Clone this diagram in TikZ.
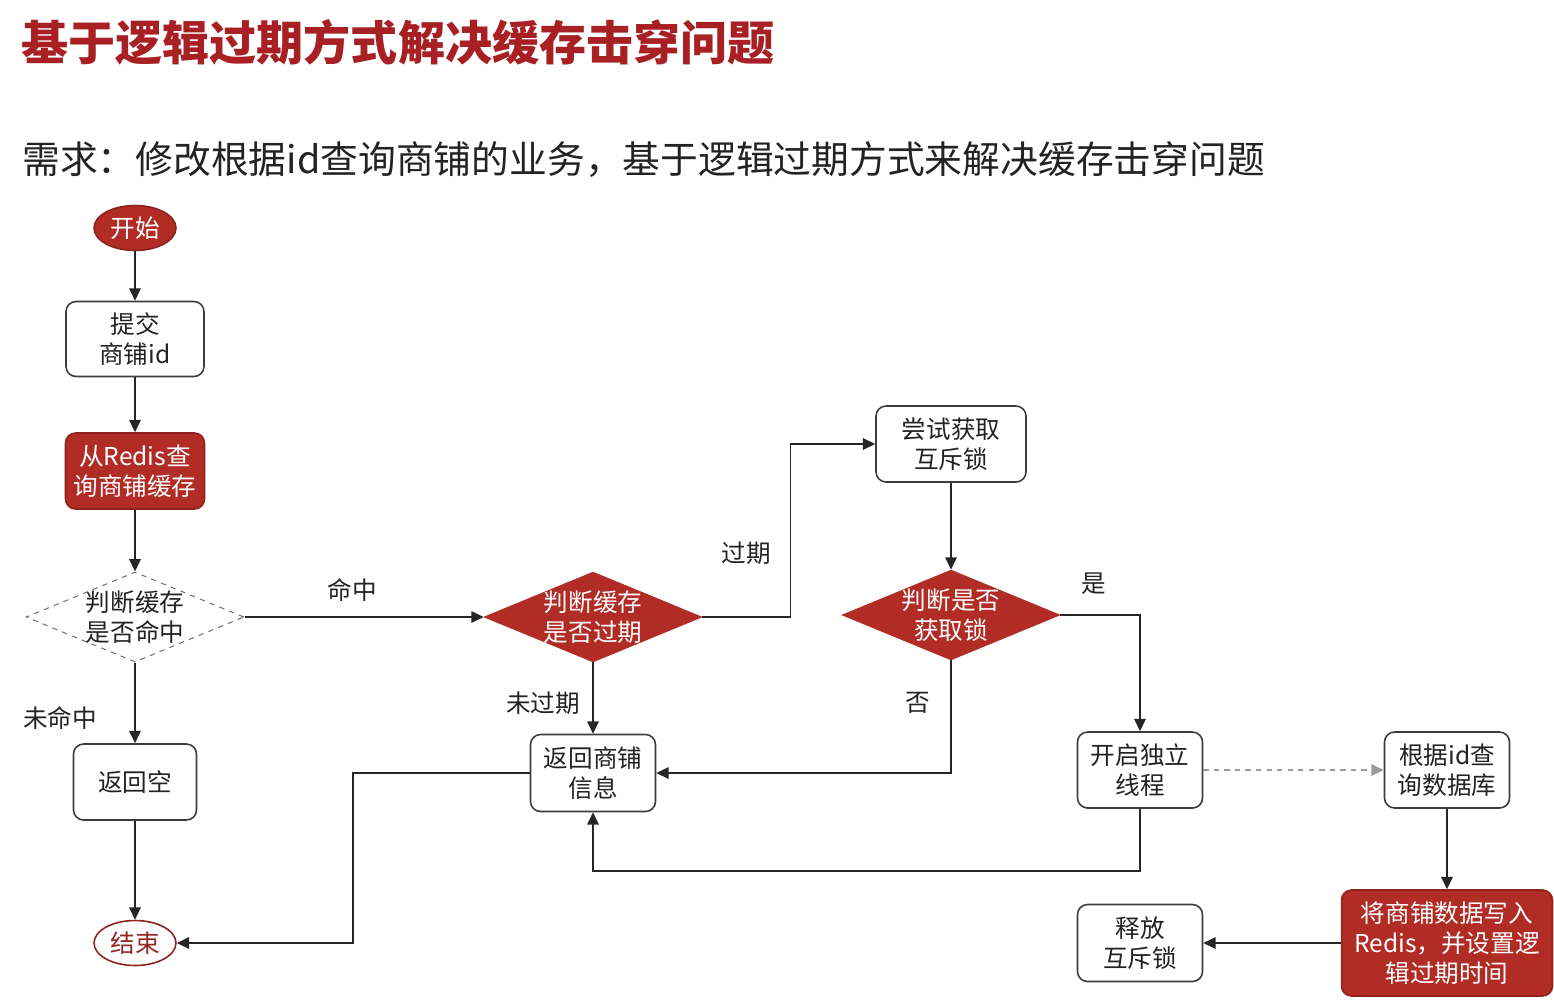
\documentclass[tikz,border=0pt]{standalone}
\usepackage{fontspec}
\setmainfont{Noto Sans CJK SC}
\usetikzlibrary{shapes.geometric,arrows.meta}
\definecolor{rd}{RGB}{178,44,38}
\definecolor{tt}{RGB}{168,32,36}
\definecolor{bd}{RGB}{60,60,60}
\definecolor{tx}{RGB}{35,35,35}
\newcommand\nfont{\fontsize{14pt}{17pt}\selectfont}
\begin{document}
\begin{tikzpicture}[x=0.02cm,y=-0.02cm,
  box/.style={draw=bd, line width=0.9pt, rounded corners=0.2cm, fill=white, align=center, font=\nfont, text=tx, inner sep=0pt},
  redbox/.style={box, fill=rd, draw=rd!80!black, text=white},
  term/.style={ellipse, draw=rd!80!black, line width=0.9pt, font=\nfont, inner sep=0pt, minimum width=1.64cm, minimum height=0.9cm},
  dia/.style={diamond, inner sep=0pt, minimum width=4.36cm, minimum height=1.8cm},
  lbl/.style={font=\nfont, text=tx, inner sep=0pt},
  arr/.style={draw=black!85, line width=0.9pt, -{Triangle[length=7pt,width=6.5pt]}}]
\useasboundingbox (0,0) rectangle (1554,1005);
\fill[white] (0,0) rectangle (1554,1005);

\node[anchor=west, text=tt, font=\fontsize{26.8pt}{30pt}\selectfont\bfseries, inner sep=0pt] (title) at (21,42) {基于逻辑过期方式解决缓存击穿问题};
\node[anchor=west, text=tx, font=\fontsize{21.5pt}{26pt}\selectfont, inner sep=0pt] (req) at (22,160) {需求：修改根据id查询商铺的业务，基于逻辑过期方式来解决缓存击穿问题};

% nodes
\node[term, fill=rd, text=white] (start) at (135,228) {开始};
\node[box, minimum width=2.76cm, minimum height=1.5cm] (submit) at (135,339) {提交\\商铺id};
\node[redbox, minimum width=2.78cm, minimum height=1.52cm] (redis) at (135,471) {从Redis查\\询商铺缓存};
\node[dia, draw=black!55, dashed, line width=0.6pt, fill=white,
      label={[lbl, align=center]center:判断缓存\\是否命中}] (d1) at (135,617) {};
\node[box, minimum width=2.46cm, minimum height=1.52cm] (empty) at (135,782) {返回空};
\node[term, fill=white, text=rd!85!black] (end) at (135,943) {结束};

\node[dia, fill=rd, draw=rd,
      label={[lbl, text=white, align=center]center:判断缓存\\是否过期}] (d2) at (593,617) {};
\node[box, minimum width=2.5cm, minimum height=1.54cm] (info) at (593,773) {返回商铺\\信息};

\node[box, minimum width=3.0cm, minimum height=1.52cm] (try) at (951,444) {尝试获取\\互斥锁};
\node[dia, fill=rd, draw=rd,
      label={[lbl, text=white, align=center]center:判断是否\\获取锁}] (d3) at (951,615) {};

\node[box, minimum width=2.5cm, minimum height=1.52cm] (thread) at (1140,770) {开启独立\\线程};
\node[box, minimum width=2.5cm, minimum height=1.52cm] (db) at (1447,770) {根据id查\\询数据库};
\node[redbox, minimum width=4.22cm, minimum height=2.12cm] (write) at (1447,943) {将商铺数据写入\\Redis，并设置逻\\辑过期时间};
\node[box, minimum width=2.5cm, minimum height=1.54cm] (unlock) at (1140,943) {释放\\互斥锁};

% connectors
\draw[arr] (start) -- (submit);
\draw[arr] (submit) -- (redis);
\draw[arr] (redis) -- (d1);
\draw[arr] (d1.south) -- (empty.north);
\draw[arr] (empty) -- (end);
\draw[arr] (d1.east) -- (d2.west);
\draw[arr] (d2.east) -- ++(88,0) |- (try.west);
\draw[arr] (try) -- (d3.north);
\draw[arr] (d3.south) |- (info.east);
\draw[arr] (d3.east) -| (thread.north);
\draw[arr] (d2.south) -- (info.north);
\draw[arr] (thread.south) -- ++(0,62) -| (info.south);
\draw[arr] (info.west) -- ++(-177,0) |- (end.east);
\draw[arr, draw=black!40, dashed] (thread.east) -- (db.west);
\draw[arr] (db) -- (write);
\draw[arr] (write) -- (unlock);

% labels
\node[lbl] (l1) at (60,718) {未命中};
\node[lbl] (l2) at (352,590) {命中};
\node[lbl] (l3) at (746,553) {过期};
\node[lbl] (l4) at (543,703) {未过期};
\node[lbl] (l5) at (918,703) {否};
\node[lbl] (l6) at (1094,584) {是};
\end{tikzpicture}
\end{document}
